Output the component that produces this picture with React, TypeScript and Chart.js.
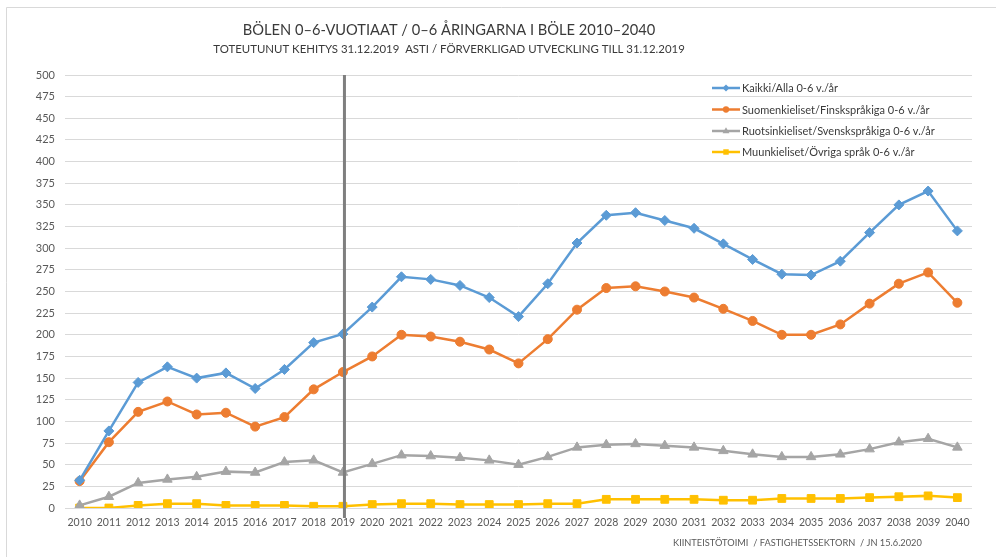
import React, { useEffect, useRef } from "react";
import { Chart, registerables } from "chart.js";

Chart.register(...registerables);

const years = [
  "2010", "2011", "2012", "2013", "2014", "2015", "2016", "2017", "2018", "2019",
  "2020", "2021", "2022", "2023", "2024", "2025", "2026", "2027", "2028", "2029",
  "2030", "2031", "2032", "2033", "2034", "2035", "2036", "2037", "2038", "2039", "2040",
];

const kaikki = [32, 89, 145, 163, 150, 156, 138, 160, 191, 201, 232, 267, 264, 257, 243, 221, 259, 306, 338, 341, 332, 323, 305, 287, 270, 269, 285, 318, 350, 366, 320];
const suomi = [31, 76, 111, 123, 108, 110, 94, 105, 137, 157, 175, 200, 198, 192, 183, 167, 195, 229, 254, 256, 250, 243, 230, 216, 200, 200, 212, 236, 259, 272, 237];
const ruotsi = [3, 13, 29, 33, 36, 42, 41, 53, 55, 41, 51, 61, 60, 58, 55, 50, 59, 70, 73, 74, 72, 70, 66, 62, 59, 59, 62, 68, 76, 80, 70];
const muu = [0, 0, 3, 5, 5, 3, 3, 3, 2, 2, 4, 5, 5, 4, 4, 4, 5, 5, 10, 10, 10, 10, 9, 9, 11, 11, 11, 12, 13, 14, 12];

const seriesNames = [
  "Kaikki/Alla 0-6 v./år",
  "Suomenkieliset/Finskspråkiga 0-6 v./år",
  "Ruotsinkieliset/Svenskspråkiga 0-6 v./år",
  "Muunkieliset/Övriga språk 0-6 v./år",
];

const TITLE = "BÖLEN 0–6-VUOTIAAT / 0–6 ÅRINGARNA I BÖLE 2010–2040";
const SUBTITLE = "TOTEUTUNUT KEHITYS 31.12.2019  ASTI / FÖRVERKLIGAD UTVECKLING TILL 31.12.2019";
const FOOTER = "KIINTEISTÖTOIMI  / FASTIGHETSSEKTORN  / JN 15.6.2020";
const MARK_YEAR = "2019";

const FONT = "Lato, 'Open Sans', sans-serif";

function fitText(ctx: CanvasRenderingContext2D, text: string, x: number, y: number, targetW: number, base: number, weight = "normal") {
  ctx.font = `${weight} ${base}px ${FONT}`;
  const w = ctx.measureText(text).width;
  const size = (base * targetW) / w;
  ctx.font = `${weight} ${size}px ${FONT}`;
  ctx.fillText(text, x, y);
}

function marker(ctx: CanvasRenderingContext2D, style: string, x: number, y: number, r: number) {
  ctx.beginPath();
  if (style === "circle") {
    ctx.arc(x, y, r, 0, Math.PI * 2);
  } else if (style === "rect") {
    const s = r * Math.SQRT1_2;
    ctx.rect(x - s, y - s, 2 * s, 2 * s);
  } else if (style === "rectRot") {
    ctx.moveTo(x, y - r);
    ctx.lineTo(x + r, y);
    ctx.lineTo(x, y + r);
    ctx.lineTo(x - r, y);
    ctx.closePath();
  } else if (style === "triangle") {
    ctx.moveTo(x, y - r);
    ctx.lineTo(x + r * 0.9, y + r * 0.6);
    ctx.lineTo(x - r * 0.9, y + r * 0.6);
    ctx.closePath();
  }
  ctx.fill();
}

const decorPlugin = {
  id: "decor",
  beforeDraw(chart: any) {
    const ctx = chart.ctx as CanvasRenderingContext2D;
    ctx.save();
    ctx.fillStyle = "#ffffff";
    ctx.fillRect(0, 0, chart.width, chart.height);
    ctx.strokeStyle = "#d9d9d9";
    ctx.lineWidth = 1;
    ctx.beginPath();
    ctx.moveTo(6.5, chart.height);
    ctx.lineTo(6.5, 7.5);
    ctx.lineTo(chart.width, 7.5);
    ctx.stroke();
    ctx.restore();
  },
  afterDatasetsDraw(chart: any) {
    const ctx = chart.ctx as CanvasRenderingContext2D;
    const xs = chart.scales.x;
    const area = chart.chartArea;
    const idx = years.indexOf(MARK_YEAR);
    const px = xs.getPixelForValue(idx) + 1.5;
    ctx.save();
    ctx.strokeStyle = "#7f7f7f";
    ctx.lineWidth = 3;
    ctx.beginPath();
    ctx.moveTo(px, area.top);
    ctx.lineTo(px, area.bottom + 10);
    ctx.stroke();
    ctx.restore();
  },
  afterDraw(chart: any) {
    const ctx = chart.ctx as CanvasRenderingContext2D;
    ctx.save();
    ctx.fillStyle = "#3a3a3a";
    ctx.textAlign = "center";
    ctx.textBaseline = "middle";
    fitText(ctx, TITLE, 449, 30, 413, 18);
    fitText(ctx, SUBTITLE, 449, 49, 472, 12);
    ctx.fillStyle = "#595959";
    ctx.textAlign = "left";
    fitText(ctx, FOOTER, 673, 543, 249, 9);

    // legend
    const rows = [88, 109.5, 131, 152];
    chart.data.datasets.forEach((ds: any, i: number) => {
      const y = rows[i];
      ctx.strokeStyle = ds.borderColor;
      ctx.lineWidth = 2.5;
      ctx.beginPath();
      ctx.moveTo(712, y);
      ctx.lineTo(740, y);
      ctx.stroke();
      ctx.fillStyle = ds.pointBackgroundColor;
      marker(ctx, ds.pointStyle, 726, y, ds.pointRadius * 0.7);
      ctx.fillStyle = "#3a3a3a";
      ctx.textBaseline = "middle";
      ctx.font = `normal 11px ${FONT}`;
      ctx.fillText(ds.label, 742, y + 0.5);
    });
    ctx.restore();
  },
};

export default function App() {
  const ref = useRef<HTMLCanvasElement | null>(null);
  useEffect(() => {
    if (!ref.current) return;
    const mk = (label: string, data: number[], color: string, style: string, r: number) => ({
      label,
      data,
      borderColor: color,
      backgroundColor: color,
      pointBackgroundColor: color,
      pointBorderColor: color,
      pointStyle: style,
      pointRadius: r,
      pointBorderWidth: 1,
      borderWidth: 2.5,
      tension: 0,
      fill: false,
    });
    const chart = new Chart(ref.current, {
      type: "line",
      data: {
        labels: years,
        datasets: [
          mk(seriesNames[0], kaikki, "#5b9bd5", "rectRot", 5),
          mk(seriesNames[1], suomi, "#ed7d31", "circle", 4.5),
          mk(seriesNames[2], ruotsi, "#a5a5a5", "triangle", 5.5),
          mk(seriesNames[3], muu, "#ffc000", "rect", 5.5),
        ] as any,
      },
      options: {
        animation: false,
        responsive: false,
        maintainAspectRatio: false,
        layout: { padding: { left: 0, top: 75, right: 24, bottom: 29 } },
        plugins: {
          legend: { display: false },
          title: { display: false },
          tooltip: { enabled: false },
        },
        scales: {
          x: {
            offset: true,
            grid: { display: false, drawTicks: false },
            border: { display: false },
            ticks: {
              color: "#595959",
              font: { family: FONT, size: 10.5 },
              padding: 8,
              maxRotation: 0,
              autoSkip: false,
            },
            afterFit: (s: any) => { s.height = 20; },
          },
          y: {
            min: 0,
            max: 500,
            grid: { color: "#d9d9d9", lineWidth: 1, drawTicks: false },
            border: { display: false },
            ticks: {
              stepSize: 25,
              color: "#595959",
              font: { family: FONT, size: 11 },
              padding: 10,
            },
            afterFit: (s: any) => { s.width = 65; },
          },
        },
      },
      plugins: [decorPlugin],
    });
    return () => chart.destroy();
  }, []);
  return (
    <div style={{ position: "fixed", left: 0, top: 0, width: 996, height: 557 }}>
      <canvas ref={ref} width={996} height={557} style={{ width: 996, height: 557 }} />
    </div>
  );
}
